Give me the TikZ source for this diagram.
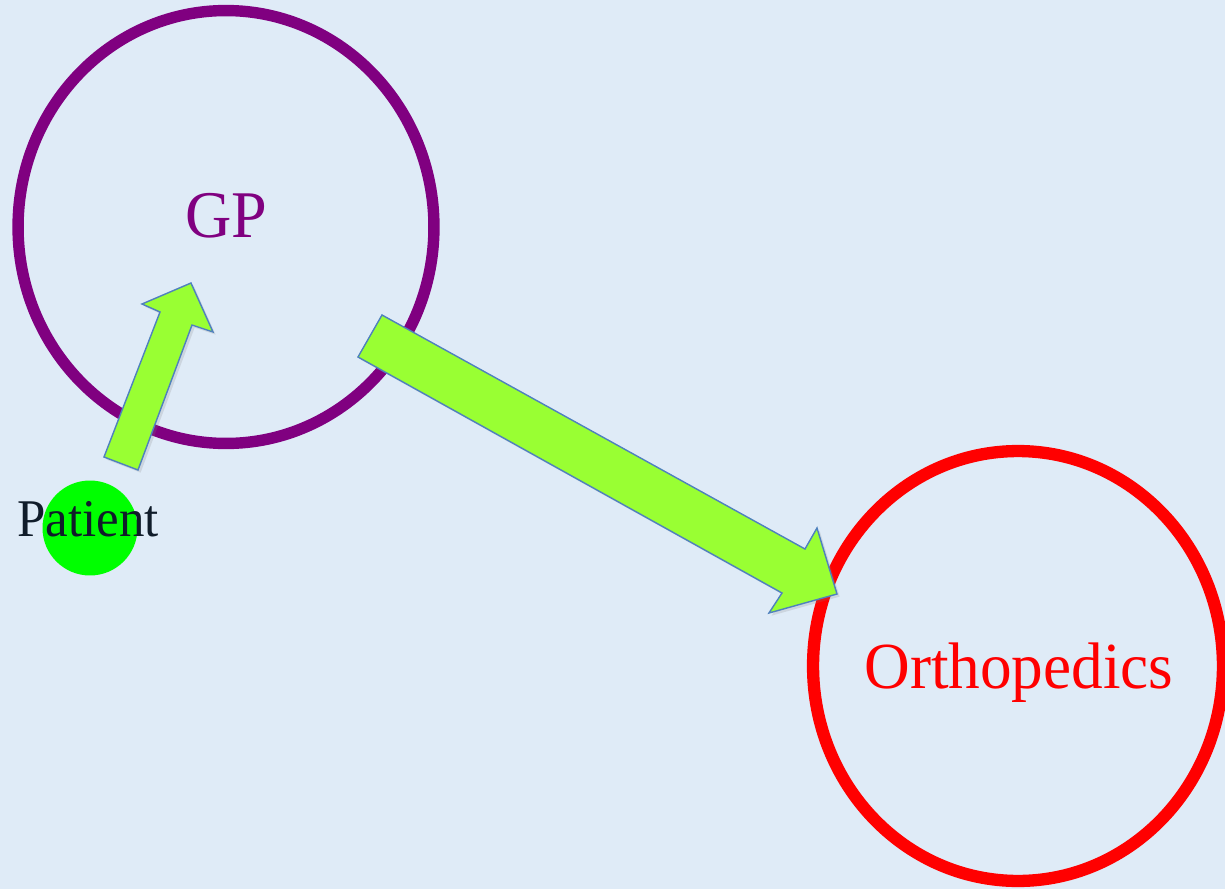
\documentclass[tikz,border=0pt]{standalone}
\usepackage{fontspec}
\setmainfont{Liberation Serif}
\usetikzlibrary{shapes.geometric,shadows}

\definecolor{bgblue}{HTML}{DFEBF7}
\definecolor{gppurple}{HTML}{800080}
\definecolor{orthored}{HTML}{FF0000}
\definecolor{patientgreen}{HTML}{00FF00}
\definecolor{arrowgreen}{HTML}{99FF33}
\definecolor{arrowedge}{HTML}{4F81BD}
\definecolor{textnavy}{HTML}{101C2A}

\tikzset{
  ring/.style={draw, ellipse, inner sep=0pt},
  blockarrow/.style={fill=arrowgreen, draw=arrowedge, line width=0.8pt, line join=miter,
    drop shadow={shadow xshift=1.5pt, shadow yshift=-1.5pt, opacity=0.2}},
  label text/.style={anchor=base, yscale=1.04},
}

\begin{document}
\begin{tikzpicture}[x=0.02cm, y=-0.02cm]
\useasboundingbox (0,0) rectangle (1225,889);
\clip (0,0) rectangle (1225,889);
\fill[bgblue] (0,0) rectangle (1225,889);

% GP and Orthopedics rings
\node[ring, draw=gppurple, line width=6.5pt, minimum width=8.32cm, minimum height=8.66cm] (gp) at (226,227) {};
\node[ring, draw=orthored, line width=7pt, minimum width=8.2cm, minimum height=8.6cm] (ortho) at (1018,666) {};

% Patient
\node[circle, fill=patientgreen, inner sep=0pt, minimum size=1.9cm] (patient) at (90,528) {};

% Patient -> GP
\draw[blockarrow] (104,457) -- (160,312) -- (142,304) -- (191,283)
  -- (213,332) -- (192,325) -- (138,470) -- cycle;

% GP -> Orthopedics
\draw[blockarrow] (382,315) -- (805,549) -- (817,528) -- (837,594)
  -- (769,613) -- (782,593) -- (358,357) -- cycle;

% labels
\node[label text, text=gppurple, font=\fontsize{36.5}{40}\selectfont] (gplabel) at (226,237) {GP};
\node[label text, text=orthored, font=\fontsize{36}{40}\selectfont] (ortholabel) at (1019,688) {Orthopedics};
\node[label text, text=textnavy, font=\fontsize{29}{32}\selectfont] (patientlabel) at (88,536) {Patient};

\end{tikzpicture}
\end{document}
